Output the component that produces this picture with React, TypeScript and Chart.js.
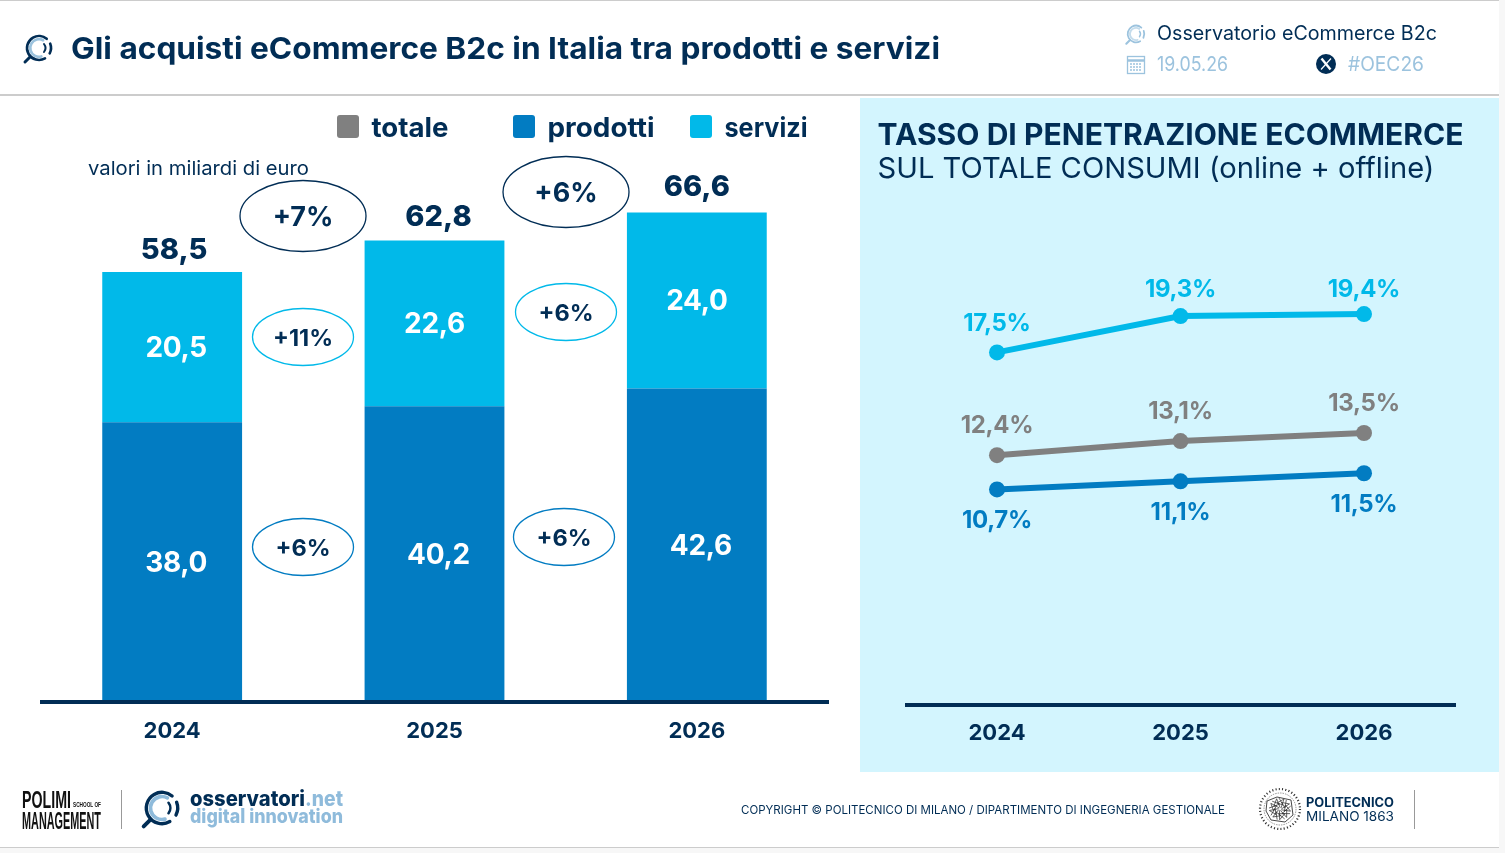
import { Chart, registerables, type ChartConfiguration, type Plugin } from 'chart.js'
import { useEffect, useRef } from 'react'

Chart.register(...registerables)

const years = ['2024', '2025', '2026']

// left chart, miliardi di euro
const totale = [58.5, 62.8, 66.6]
const prodotti = [38.0, 40.2, 42.6]
const servizi = [20.5, 22.6, 24.0]

// right chart, % on total consumption
const pctServizi = [17.5, 19.3, 19.4]
const pctTotale = [12.4, 13.1, 13.5]
const pctProdotti = [10.7, 11.1, 11.5]

const growthTotale = ['+7%', '+6%']
const growthServizi = ['+11%', '+6%']
const growthProdotti = ['+6%', '+6%']

const NAVY = '#012D55'
const GREY = '#808080'
const BLUE = '#027CC2'
const CYAN = '#01B9E9'
const PALE = '#9CC3DE'
const FONT = 'Inter, sans-serif'

const comma = (v: number) => v.toFixed(1).replace('.', ',')

// small nudges so the labels sit where the slide has them
const barLabelDx = [[2, 4, 0], [4, 4, 4], [4, 0, 0]]
const totalLabelDy = [-22, -23, -25]
const lineLabelDy = [[-29, -26, -24], [-29, -29, -29], [31, 31, 32]]

function drawText(ctx: CanvasRenderingContext2D, text: string, x: number, y: number, font: string, color: string, spacing = '0px') {
  ctx.save()
  ctx.font = font
  ctx.fillStyle = color
  ctx.textAlign = 'center'
  ctx.textBaseline = 'middle'
  ctx.letterSpacing = spacing
  ctx.fillText(text, x, y)
  ctx.restore()
}

const barLabels: Plugin<'bar'> = {
  id: 'barLabels',
  afterDatasetsDraw(chart) {
    const { ctx } = chart
    const y = chart.scales.y
    const totals = chart.getDatasetMeta(0)
    totals.data.forEach((pt, i) => {
      drawText(ctx, comma(totale[i]), pt.x + barLabelDx[0][i], y.getPixelForValue(totale[i]) + totalLabelDy[i], `800 29px ${FONT}`, NAVY)
    })
    ;[prodotti, servizi].forEach((serie, s) => {
      chart.getDatasetMeta(s + 1).data.forEach((bar, i) => {
        const { x, y: top, base } = bar.getProps(['x', 'y', 'base'], true) as any
        drawText(ctx, comma(serie[i]), x + barLabelDx[s + 1][i], (top + base) / 2 + 1.5, `700 28px ${FONT}`, '#ffffff', '-0.3px')
      })
    })
  },
}

const lineLabels: Plugin<'line'> = {
  id: 'lineLabels',
  afterDatasetsDraw(chart) {
    chart.data.datasets.forEach((ds, s) => {
      chart.getDatasetMeta(s).data.forEach((pt, i) => {
        drawText(chart.ctx, `${comma(ds.data[i] as number)}%`, pt.x, pt.y + lineLabelDy[s][i], `700 24px ${FONT}`, ds.borderColor as string, '-0.3px')
      })
    })
  },
}

// baseline goes over the bars, the built-in axis border sits under them
const axisLine = (dy: number, pad: number): Plugin<any> => ({
  id: 'axisLine',
  afterDatasetsDraw(chart) {
    const { left, right, bottom } = chart.chartArea
    const x0 = Math.round(left) - pad
    chart.ctx.save()
    chart.ctx.fillStyle = NAVY
    chart.ctx.fillRect(x0, bottom + dy, Math.round(right) + pad - x0, 4)
    chart.ctx.restore()
  },
})

const barConfig: ChartConfiguration<any> = {
  type: 'bar',
  data: {
    labels: years,
    datasets: [
      { type: 'line', label: 'totale', data: totale, showLine: false, pointRadius: 0, borderColor: GREY, backgroundColor: GREY },
      { label: 'prodotti', data: prodotti, backgroundColor: BLUE, stack: 'a', categoryPercentage: 1, barPercentage: 0.533 },
      { label: 'servizi', data: servizi, backgroundColor: CYAN, stack: 'a', categoryPercentage: 1, barPercentage: 0.533 },
    ],
  },
  options: {
    responsive: false,
    animation: false,
    layout: { padding: { left: 41, right: 22, top: 14.3 } },
    plugins: { legend: { display: false }, tooltip: { enabled: false } },
    scales: {
      x: {
        stacked: true,
        grid: { display: false, drawTicks: false },
        border: { display: false },
        ticks: { color: NAVY, font: { family: FONT, size: 22, weight: 700 }, padding: 17, maxRotation: 0 },
        afterFit: (s: any) => { s.height = 59 },
      },
      y: { stacked: true, display: false, min: 0, max: 80 },
    },
  },
  plugins: [barLabels, axisLine(-1, 1)],
}

const lineConfig: ChartConfiguration<'line'> = {
  type: 'line',
  data: {
    labels: years,
    datasets: [
      { label: 'servizi', data: pctServizi, borderColor: CYAN, backgroundColor: CYAN },
      { label: 'totale', data: pctTotale, borderColor: GREY, backgroundColor: GREY },
      { label: 'prodotti', data: pctProdotti, borderColor: BLUE, backgroundColor: BLUE },
    ],
  },
  options: {
    responsive: false,
    animation: false,
    layout: { padding: { left: 45.25, right: 43.25, top: 103.25 } },
    elements: { line: { borderWidth: 6, tension: 0 }, point: { radius: 8, borderWidth: 0 } },
    plugins: { legend: { display: false }, tooltip: { enabled: false } },
    scales: {
      x: {
        offset: true,
        grid: { display: false, drawTicks: false },
        border: { display: false },
        ticks: { color: NAVY, font: { family: FONT, size: 22, weight: 700 }, padding: 15, maxRotation: 0 },
        afterFit: (s: any) => { s.height = 66 },
      },
      y: { display: false, min: 0, max: 25 },
    },
  },
  plugins: [lineLabels, axisLine(-2, 0)],
}

function Lens({ x, y, r, ring, inner }: { x: number; y: number; r: number; ring: string; inner: string }) {
  const s = r / 13
  return (
    <g transform={`translate(${x} ${y}) scale(${s})`} fill="none" strokeLinecap="round">
      <circle r="12" stroke={ring} strokeWidth="2.6" strokeDasharray="52 6 10 8" transform="rotate(60)" />
      <circle r="8.8" stroke={inner} strokeWidth="2.8" strokeDasharray="34 22" transform="rotate(75)" />
      <path d="M-9 9L-14 14" stroke={ring} strokeWidth="3" />
      <path d="M5 -4A6.5 6.5 0 0 1 5 4" stroke={ring} strokeWidth="2" />
    </g>
  )
}

function Bubble({ x, y, rx, ry, color, size, text }: { x: number; y: number; rx: number; ry: number; color: string; size: number; text: string }) {
  return (
    <g>
      <ellipse cx={x} cy={y} rx={rx} ry={ry} fill="#ffffff" stroke={color} strokeWidth="1.3" />
      <text x={x} y={y + size * 0.38} textAnchor="middle" fontFamily={FONT} fontWeight="700" fontSize={size} fill={NAVY}>{text}</text>
    </g>
  )
}

function Label(props: { x: number; y: number; w: number; size: number; weight?: number; color?: string; family?: string; children: string }) {
  const { x, y, w, size, weight = 400, color = NAVY, family = FONT, children } = props
  return (
    <text x={x} y={y} textLength={w} lengthAdjust="spacingAndGlyphs" fontFamily={family} fontWeight={weight} fontSize={size} fill={color}>
      {children}
    </text>
  )
}

function Seal() {
  const scribble = [0, 40, 80, 120, 160, 200, 240, 280, 320]
  return (
    <g transform="translate(1280 809)" fill="none" stroke="#333">
      <circle r="20" strokeWidth="2.2" strokeDasharray="1.1 2.2" />
      <circle r="16" strokeWidth="0.5" strokeDasharray="1.5 1" />
      <path d="M-13 -8L-3 -12L11 -9L13 6L5 13L-9 11L-14 2Z" strokeWidth="0.9" />
      {scribble.map((a) => (
        <path key={a} d="M1 -1L4 -10L-3 -6L3 -4L-1 -11" strokeWidth="0.7" transform={`rotate(${a})`} />
      ))}
    </g>
  )
}

function Overlay() {
  const narrow = "'Liberation Sans Narrow', 'Liberation Sans'"
  return (
    <svg width="1505" height="853" style={{ position: 'absolute', left: 0, top: 0, pointerEvents: 'none' }}>
      <Lens x={39} y={48} r={13} ring={NAVY} inner="#9CC3DE" />
      <Label x={71} y={59} w={869} size={30} weight={700}>Gli acquisti eCommerce B2c in Italia tra prodotti e servizi</Label>

      <Lens x={1136} y={34} r={9} ring={PALE} inner="#C4DCEC" />
      <Label x={1157} y={40} w={280} size={20}>Osservatorio eCommerce B2c</Label>
      <g fill="none" stroke={PALE} strokeWidth="1.3">
        <rect x="1127.5" y="56.5" width="17" height="17" />
        <path d="M1127.5 60.5H1144.5" strokeWidth="2.5" />
        <path d="M1130 64H1142M1130 67H1142M1130 70H1142" strokeDasharray="2 1" />
      </g>
      <Label x={1157} y={71} w={71} size={20} color={PALE}>19.05.26</Label>
      <circle cx="1326" cy="64" r="10" fill={NAVY} />
      <path d="M1321.5 58.5L1330.5 69.5" stroke="#ffffff" strokeWidth="2.4" />
      <path d="M1331 58.5L1321 69.5" stroke="#ffffff" strokeWidth="1.2" />
      <Label x={1348} y={71} w={76} size={20} color={PALE}>#OEC26</Label>

      {[{ x: 337, c: GREY, t: 'totale', tw: 77 }, { x: 513, c: BLUE, t: 'prodotti', tw: 107 }, { x: 690, c: CYAN, t: 'servizi', tw: 83 }].map((l) => (
        <g key={l.t}>
          <rect x={l.x} y={115} width={22} height={23} rx={3} fill={l.c} />
          <Label x={l.x + 34.5} y={137} w={l.tw} size={27} weight={700}>{l.t}</Label>
        </g>
      ))}
      <Label x={88} y={175} w={221} size={19}>valori in miliardi di euro</Label>

      <Bubble x={303} y={216} rx={63} ry={35.5} color={NAVY} size={27} text={growthTotale[0]} />
      <Bubble x={566} y={192} rx={63} ry={35.5} color={NAVY} size={27} text={growthTotale[1]} />
      <Bubble x={303} y={337} rx={50.5} ry={28.5} color={CYAN} size={23.5} text={growthServizi[0]} />
      <Bubble x={566} y={312} rx={50.5} ry={28.5} color={CYAN} size={23.5} text={growthServizi[1]} />
      <Bubble x={303} y={547} rx={50.5} ry={28.5} color={BLUE} size={23.5} text={growthProdotti[0]} />
      <Bubble x={564} y={537} rx={50.5} ry={28.5} color={BLUE} size={23.5} text={growthProdotti[1]} />

      <Label x={877.5} y={145} w={586} size={30} weight={700}>TASSO DI PENETRAZIONE ECOMMERCE</Label>
      <Label x={877.5} y={178} w={557} size={29}>SUL TOTALE CONSUMI (online + offline)</Label>

      <Label x={22} y={808} w={49} size={23} weight={700} color="#111" family={narrow}>POLIMI</Label>
      <Label x={73} y={807} w={28} size={7} weight={700} color="#111" family={narrow}>SCHOOL OF</Label>
      <Label x={22} y={829} w={79} size={23} weight={700} color="#111" family={narrow}>MANAGEMENT</Label>
      <path d="M121.5 790V829" stroke="#999" />
      <Lens x={162} y={808} r={17} ring={NAVY} inner="#8FBBDB" />
      <Label x={190} y={806} w={115} size={21} weight={800}>osservatori</Label>
      <Label x={305} y={806} w={38} size={21} weight={800} color="#8FBBDB">.net</Label>
      <Label x={190} y={823} w={153} size={20} weight={800} color="#8FBBDB">digital innovation</Label>

      <Label x={741} y={814} w={484} size={11.5}>COPYRIGHT © POLITECNICO DI MILANO / DIPARTIMENTO DI INGEGNERIA GESTIONALE</Label>
      <Seal />
      <Label x={1306} y={807} w={88} size={13} weight={700}>POLITECNICO</Label>
      <Label x={1306} y={821} w={88} size={13}>MILANO 1863</Label>
      <path d="M1414.5 790V829" stroke="#999" />
    </svg>
  )
}

export default function App() {
  const barRef = useRef<HTMLCanvasElement | null>(null)
  const lineRef = useRef<HTMLCanvasElement | null>(null)

  useEffect(() => {
    if (!barRef.current || !lineRef.current) {
      return
    }

    const bars = new Chart(barRef.current, barConfig)
    const lines = new Chart(lineRef.current, lineConfig)

    return () => {
      bars.destroy()
      lines.destroy()
    }
  }, [])

  return (
    <div style={{ position: 'absolute', left: 0, top: 0, width: 1505, height: 853, overflow: 'hidden', background: '#f7f7f7' }}>
      <div style={{ position: 'absolute', left: 0, top: 0, width: 1499, height: 846, background: '#ffffff', borderTop: '1px solid #cccccc', borderBottom: '1px solid #cccccc', boxSizing: 'content-box' }} />
      <div style={{ position: 'absolute', left: 0, top: 94, width: 1499, height: 2, background: '#cccccc' }} />
      <div style={{ position: 'absolute', left: 860, top: 98, width: 639, height: 674, background: '#D3F5FE' }} />
      <canvas ref={barRef} width={850} height={660} style={{ position: 'absolute', left: 0, top: 100 }} aria-label="Acquisti eCommerce per anno" />
      <canvas ref={lineRef} width={639} height={673} style={{ position: 'absolute', left: 860, top: 98 }} aria-label="Tasso di penetrazione eCommerce" />
      <Overlay />
    </div>
  )
}
